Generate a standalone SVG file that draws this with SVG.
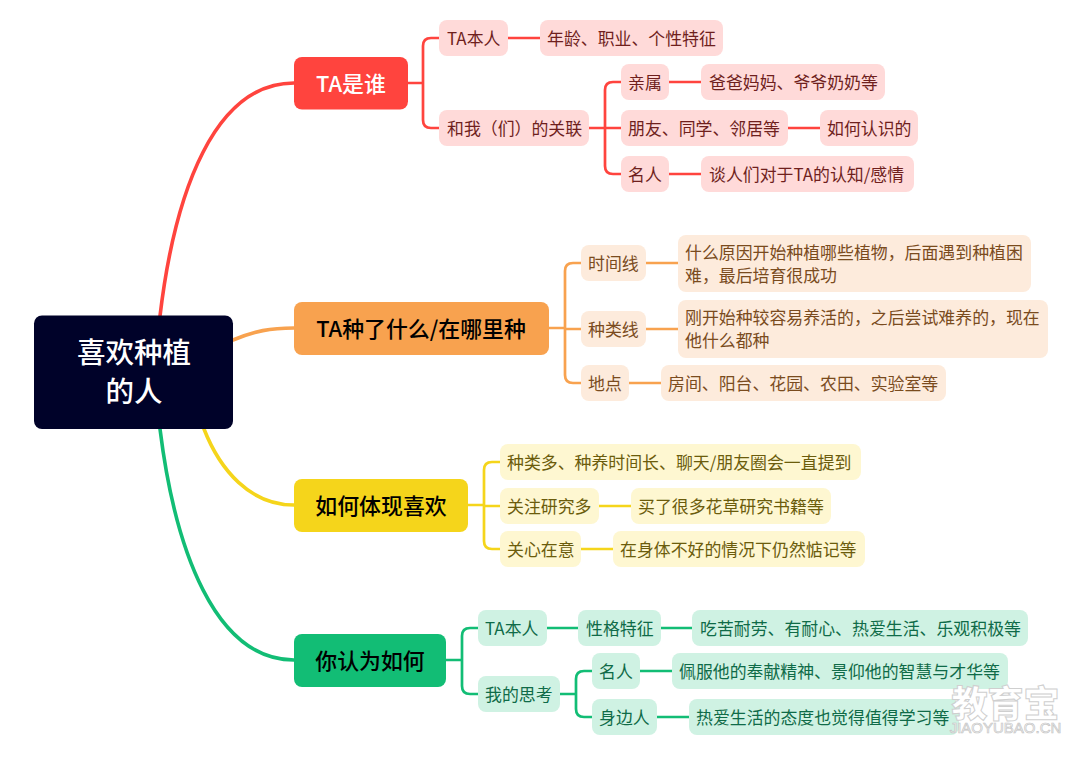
<svg xmlns="http://www.w3.org/2000/svg" width="1080" height="757" viewBox="0 0 1080 757">
<style>
text{font-family:"Noto Sans CJK SC","Noto Sans",sans-serif;}
.c{fill:none;stroke-width:2.7;stroke-linecap:round;stroke-linejoin:round}
.b{stroke-width:3.6}
.r{stroke:#ff443e}.o{stroke:#f8a24f}.y{stroke:#f5d51b}.g{stroke:#12bd75}
.t{font-size:16.9px;dominant-baseline:central}
.m{font-size:21.9px;font-weight:500;dominant-baseline:central;text-anchor:middle}
.lr{fill:#ffdad9}.lo{fill:#fdebdc}.ly{fill:#fef7d1}.lg{fill:#cff2e3}
.tr{fill:#6f1f1d}.to{fill:#7a4b1e}.ty{fill:#6b5c0c}.tg{fill:#0f6b48}
</style>
<rect width="1080" height="757" fill="#fff"/>
<g id="connectors">
<path class="c b r" d="M160 316C175 190 215 83 294 83"/>
<path class="c b o" d="M233 340C255 331 270 328 294 328"/>
<path class="c b y" d="M204 429C220 470 250 505 294 505"/>
<path class="c b g" d="M160 429C175 550 215 660 294 660"/>
<path class="c r" d="M408 83H423M439 38H431Q423 38 423 46V120Q423 128 431 128H439M508 38H540M589 128H621M621 82H613Q605 82 605 90V166Q605 174 613 174H621M669 82H701M788 128H820M669 174H701"/>
<path class="c o" d="M549 328H565M581 263H573Q565 263 565 271V375Q565 383 573 383H581M565 329H581M646 263H678M646 329H678M629 383H661"/>
<path class="c y" d="M468 505H484M500 462H492Q484 462 484 470V541Q484 549 492 549H500M484 506H500M599 506H631M581 549H613"/>
<path class="c g" d="M446 660H462M478 628H470Q462 628 462 636V686Q462 694 470 694H478M547 628H578M661 628H692M560 694H576M592 671H584Q576 671 576 679V709Q576 717 584 717H592M640 671H672M657 717H689"/>
</g>
<g id="root"><rect x="34" y="315.500" width="199" height="113.500" rx="8" fill="#000229"/>
<text x="134" y="350" font-size="28.500" fill="#fff" text-anchor="middle" dominant-baseline="central" font-weight="500">喜欢种植</text>
<text x="134" y="389" font-size="28.500" fill="#fff" text-anchor="middle" dominant-baseline="central" font-weight="500">的人</text></g>
<g id="n1"><rect x="294" y="57" width="114" height="52.500" rx="8" fill="#ff443e"/><text class="m" x="351" y="82" fill="#fff">TA是谁</text></g>
<g id="n2"><rect x="294" y="302" width="255" height="53" rx="8" fill="#f8a24f"/><text class="m" x="421" y="327">TA种了什么/在哪里种</text></g>
<g id="n3"><rect x="294" y="479" width="174" height="53" rx="8" fill="#f5d51b"/><text class="m" x="381" y="504">如何体现喜欢</text></g>
<g id="n4"><rect x="294" y="634" width="152" height="53" rx="8" fill="#12bd75"/><text class="m" x="370" y="659">你认为如何</text></g>

<g id="r1"><rect class="lr" x="439" y="20" width="69" height="36" rx="8"/><text class="t tr" x="447" y="37">TA本人</text></g>
<g id="r2"><rect class="lr" x="540" y="20" width="183" height="36" rx="8"/><text class="t tr" x="547" y="37">年龄、职业、个性特征</text></g>
<g id="r3"><rect class="lr" x="439" y="110" width="150" height="36" rx="8"/><text class="t tr" x="447" y="127">和我（们）的关联</text></g>
<g id="r4"><rect class="lr" x="621" y="64" width="48" height="36" rx="8"/><text class="t tr" x="628" y="81">亲属</text></g>
<g id="r5"><rect class="lr" x="701" y="64" width="184" height="36" rx="8"/><text class="t tr" x="709" y="81">爸爸妈妈、爷爷奶奶等</text></g>
<g id="r6"><rect class="lr" x="621" y="110" width="167" height="36" rx="8"/><text class="t tr" x="628" y="127">朋友、同学、邻居等</text></g>
<g id="r7"><rect class="lr" x="820" y="110" width="98" height="36" rx="8"/><text class="t tr" x="827" y="127">如何认识的</text></g>
<g id="r8"><rect class="lr" x="621" y="156" width="48" height="36" rx="8"/><text class="t tr" x="628" y="173">名人</text></g>
<g id="r9"><rect class="lr" x="701" y="156" width="213" height="36" rx="8"/><text class="t tr" x="709" y="173">谈人们对于TA的认知/感情</text></g>

<g id="o1"><rect class="lo" x="581" y="245" width="65" height="36" rx="8"/><text class="t to" x="588" y="262">时间线</text></g>
<g id="o2"><rect class="lo" x="678" y="235" width="353" height="57" rx="8"/><text class="t to" x="685" y="251">什么原因开始种植哪些植物，后面遇到种植困</text><text class="t to" x="685" y="274">难，最后培育很成功</text></g>
<g id="o3"><rect class="lo" x="581" y="311" width="65" height="36" rx="8"/><text class="t to" x="588" y="328">种类线</text></g>
<g id="o4"><rect class="lo" x="678" y="300" width="370" height="58" rx="8"/><text class="t to" x="685" y="316.500">刚开始种较容易养活的，之后尝试难养的，现在</text><text class="t to" x="685" y="339.500">他什么都种</text></g>
<g id="o5"><rect class="lo" x="581" y="365" width="48" height="36" rx="8"/><text class="t to" x="588" y="382">地点</text></g>
<g id="o6"><rect class="lo" x="661" y="365" width="285" height="36" rx="8"/><text class="t to" x="668" y="382">房间、阳台、花园、农田、实验室等</text></g>

<g id="y1"><rect class="ly" x="500" y="444" width="361" height="36" rx="8"/><text class="t ty" x="507" y="461">种类多、种养时间长、聊天/朋友圈会一直提到</text></g>
<g id="y2"><rect class="ly" x="500" y="488" width="99" height="36" rx="8"/><text class="t ty" x="507" y="505">关注研究多</text></g>
<g id="y3"><rect class="ly" x="631" y="488" width="200" height="36" rx="8"/><text class="t ty" x="638" y="505">买了很多花草研究书籍等</text></g>
<g id="y4"><rect class="ly" x="500" y="531" width="81" height="36" rx="8"/><text class="t ty" x="507" y="548">关心在意</text></g>
<g id="y5"><rect class="ly" x="613" y="531" width="252" height="36" rx="8"/><text class="t ty" x="620" y="548">在身体不好的情况下仍然惦记等</text></g>

<g id="g1"><rect class="lg" x="478" y="610" width="69" height="36" rx="8"/><text class="t tg" x="485" y="627">TA本人</text></g>
<g id="g2"><rect class="lg" x="578" y="610" width="83" height="36" rx="8"/><text class="t tg" x="586" y="627">性格特征</text></g>
<g id="g3"><rect class="lg" x="692" y="610" width="336" height="36" rx="8"/><text class="t tg" x="700" y="627">吃苦耐劳、有耐心、热爱生活、乐观积极等</text></g>
<g id="g4"><rect class="lg" x="478" y="676" width="82" height="36" rx="8"/><text class="t tg" x="485" y="693">我的思考</text></g>
<g id="g5"><rect class="lg" x="592" y="653" width="48" height="36" rx="8"/><text class="t tg" x="599" y="670">名人</text></g>
<g id="g6"><rect class="lg" x="672" y="653" width="336" height="36" rx="8"/><text class="t tg" x="679" y="670">佩服他的奉献精神、景仰他的智慧与才华等</text></g>
<g id="g7"><rect class="lg" x="592" y="699" width="65" height="36" rx="8"/><text class="t tg" x="599" y="716">身边人</text></g>
<g id="g8"><rect class="lg" x="689" y="699" width="270" height="36" rx="8"/><text class="t tg" x="696" y="716">热爱生活的态度也觉得值得学习等</text></g>
<g id="wm">
<text x="1005.500" y="701" font-size="36" font-weight="900" text-anchor="middle" dominant-baseline="central" fill="#fff" stroke="#cfcfcf" stroke-width="1">教育宝</text>
<text x="1005.500" y="727.500" font-size="15" text-anchor="middle" dominant-baseline="central" fill="#fff" stroke="#c4c4c4" stroke-width=".7" style="font-family:'Liberation Sans',sans-serif">JIAOYUBAO.CN</text>
</g>
</svg>
